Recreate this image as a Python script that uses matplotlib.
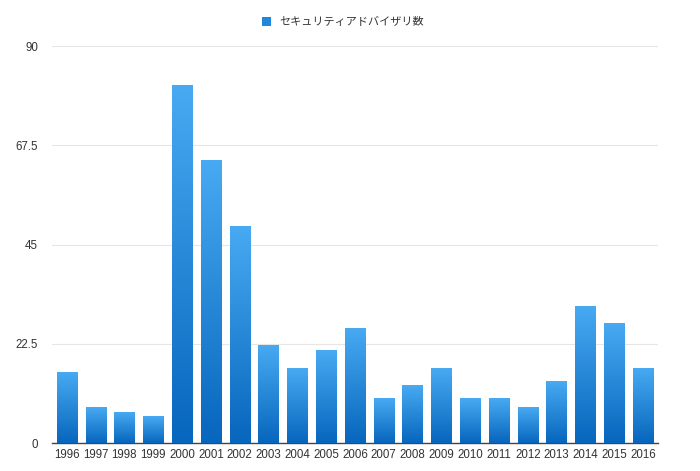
import matplotlib
matplotlib.use("Agg")
import matplotlib.pyplot as plt
import numpy as np
from matplotlib.colors import LinearSegmentedColormap
from matplotlib.patches import Rectangle

plt.rcParams['font.family'] = ['Liberation Sans', 'Noto Sans CJK JP', 'DejaVu Sans']

years = [str(y) for y in range(1996, 2017)]
counts = [16, 8, 7, 6, 81, 64, 49, 22, 17, 21, 26, 10, 13, 17, 10, 10, 8, 14, 31, 27, 17]
series_name = 'セキュリティアドバイザリ数'
yticks = [0, 22.5, 45, 67.5, 90]

top_col = '#48aaf2'
bot_col = '#0766bd'
cmap = LinearSegmentedColormap.from_list('bar', [bot_col, top_col])

fig = plt.figure(figsize=(7, 4.71), dpi=100)
ax = fig.add_axes([0.074, 0.0594, 0.866, 0.8426])

x = np.arange(len(years))
bars = ax.bar(x, counts, width=0.7, color='none', zorder=3)
grad = np.linspace(0, 1, 256).reshape(-1, 1)
for b in bars:
    x0, w, h = b.get_x(), b.get_width(), b.get_height()
    ax.imshow(grad, cmap=cmap, origin='lower', aspect='auto',
              extent=[x0, x0 + w, 0, h], zorder=3, interpolation='bicubic')

ax.set_xlim(-0.52, len(years) - 0.48)
ax.set_ylim(0, 90)
ax.set_yticks(yticks)
ax.set_yticklabels(['0', '22.5', '45', '67.5', '90'])
ax.set_xticks(x)
ax.set_xticklabels(years)
ax.grid(axis='y', color='#e6e6e6', linewidth=0.8, zorder=0)
for s in ['left', 'right', 'top']:
    ax.spines[s].set_visible(False)
ax.spines['bottom'].set_color('#444444')
ax.spines['bottom'].set_linewidth(1.0)
ax.tick_params(axis='both', length=0, labelsize=8.3, colors='#333333')
ax.tick_params(axis='y', pad=10)
ax.tick_params(axis='x', pad=4)

# legend
lh = Rectangle((0, 0), 1, 1, facecolor='#1f87dc', edgecolor='none')
fig.legend([lh], [series_name], loc='upper center', bbox_to_anchor=(0.49, 0.985),
           frameon=False, handlelength=0.8, handleheight=0.8,
           handletextpad=0.8, labelcolor='#333333',
           prop={'family': ['Noto Sans CJK JP', 'DejaVu Sans'], 'size': 8})

fig.savefig('out.png', dpi=100)
